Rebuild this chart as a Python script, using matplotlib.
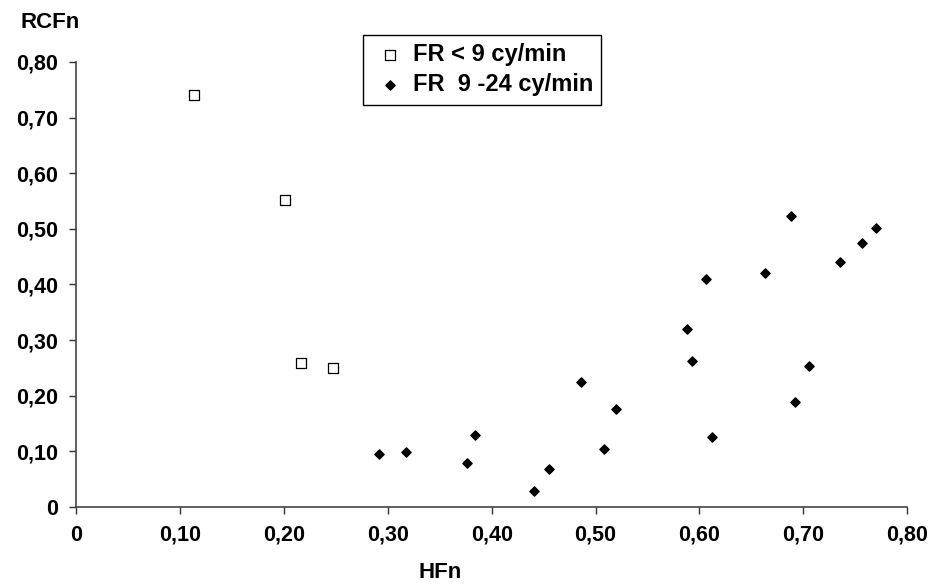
import matplotlib.pyplot as plt
from matplotlib.ticker import FuncFormatter

plt.rcParams['font.family'] = ['Liberation Sans', 'DejaVu Sans']
plt.rcParams['font.weight'] = 'bold'

# FR < 9 cy/min
hfn_low = [0.114, 0.201, 0.217, 0.247]
rcfn_low = [0.741, 0.552, 0.259, 0.250]

# FR 9-24 cy/min
hfn_mid = [0.292, 0.318, 0.376, 0.384, 0.441, 0.455, 0.486, 0.508, 0.520,
           0.588, 0.593, 0.606, 0.612, 0.663, 0.688, 0.692, 0.705, 0.735,
           0.756, 0.770]
rcfn_mid = [0.095, 0.099, 0.079, 0.129, 0.029, 0.068, 0.225, 0.105, 0.176,
            0.320, 0.263, 0.410, 0.126, 0.421, 0.523, 0.189, 0.254, 0.441,
            0.475, 0.502]

ticks = [0, 0.1, 0.2, 0.3, 0.4, 0.5, 0.6, 0.7, 0.8]

def fmt(v, pos):
    if abs(v) < 1e-9:
        return '0'
    return f'{v:.2f}'.replace('.', ',')

fig = plt.figure(figsize=(9.32, 5.84), dpi=100)
ax = fig.add_axes([0.0815, 0.132, 0.892, 0.762])

ax.scatter(hfn_low, rcfn_low, marker='s', s=42, facecolors='white',
           edgecolors='black', linewidths=0.9, label='FR < 9 cy/min', zorder=3)
ax.scatter(hfn_mid, rcfn_mid, marker='D', s=22, color='black',
           label='FR  9 -24 cy/min', zorder=3)

ax.set_xlim(0, 0.8)
ax.set_ylim(0, 0.8)
ax.set_xticks(ticks)
ax.set_yticks(ticks)
ax.xaxis.set_major_formatter(FuncFormatter(fmt))
ax.yaxis.set_major_formatter(FuncFormatter(fmt))
ax.tick_params(direction='out', length=5, width=1, labelsize=15.5, color='#333333')
ax.tick_params(axis='x', pad=8)
ax.tick_params(axis='y', pad=8)
for s in ['top', 'right']:
    ax.spines[s].set_visible(False)
for s in ['left', 'bottom']:
    ax.spines[s].set_color('#444444')
    ax.spines[s].set_linewidth(1.2)

fig.text(50 / 932, 1 - 22 / 584, 'RCFn', fontsize=16, fontweight='bold', ha='center', va='center')
fig.text(440 / 932, 1 - 572 / 584, 'HFn', fontsize=16, fontweight='bold', ha='center', va='center')

leg = ax.legend(loc='upper left', bbox_to_anchor=(363 / 932, 1 - 35 / 584),
                bbox_transform=fig.transFigure, frameon=True, borderaxespad=0,
                fancybox=False, edgecolor='black', framealpha=1,
                handletextpad=0.15, handlelength=1.6, borderpad=0.35,
                labelspacing=0.3, prop={'weight': 'bold', 'size': 17})
leg.get_frame().set_linewidth(1.0)

fig.savefig('out.png', dpi=100)
